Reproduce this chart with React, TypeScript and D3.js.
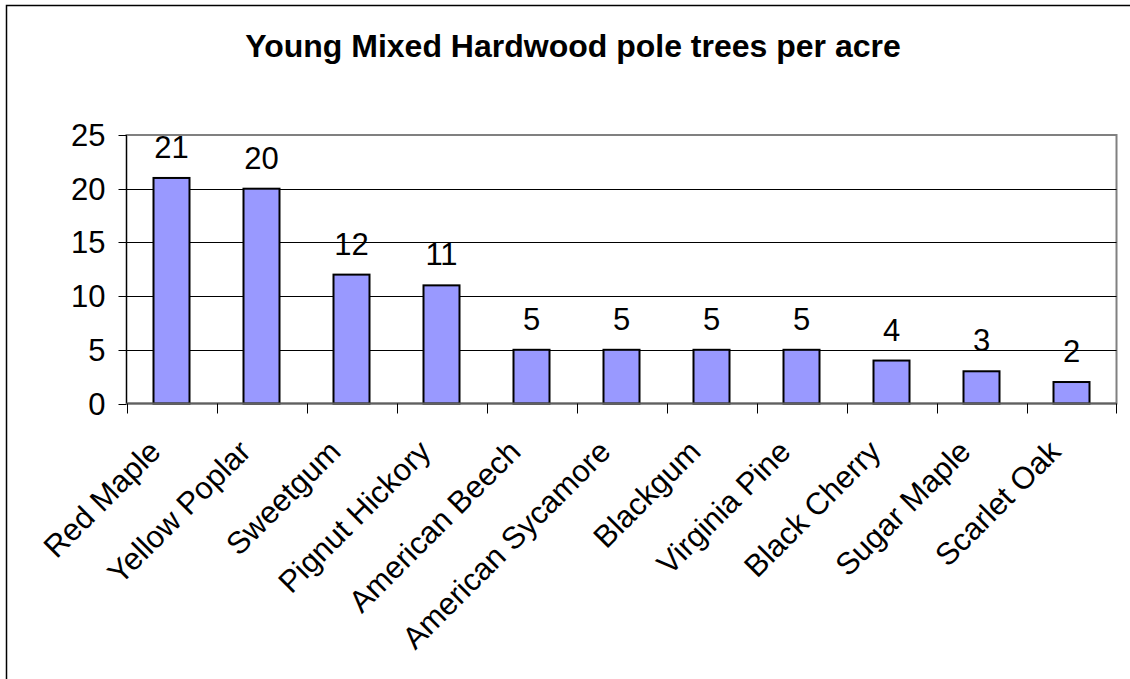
import React from "react";
import * as d3 from "d3";

const categories = [
  "Red Maple",
  "Yellow Poplar",
  "Sweetgum",
  "Pignut Hickory",
  "American Beech",
  "American Sycamore",
  "Blackgum",
  "Virginia Pine",
  "Black Cherry",
  "Sugar Maple",
  "Scarlet Oak",
];
const values = [21, 20, 12, 11, 5, 5, 5, 5, 4, 3, 2];
const yTicks = [0, 5, 10, 15, 20, 25];
const title = "Young Mixed Hardwood pole trees per acre";

const W = 1130;
const H = 679;
const plot = { left: 126.5, right: 1116.5, top: 135, bottom: 403.5 };
const FONT = "Liberation Sans, Arial, sans-serif";
const FS = 31;

export default function App() {
  const x = d3
    .scaleBand<string>()
    .domain(categories)
    .range([plot.left, plot.right])
    .paddingInner(0.6)
    .paddingOuter(0.3);
  const xb = d3
    .scaleBand<string>()
    .domain(categories)
    .range([plot.left, plot.right])
    .padding(0);
  const y = d3.scaleLinear().domain([0, 25]).range([plot.bottom, plot.top]);

  return (
    <svg
      width={W}
      height={H}
      style={{ position: "absolute", left: 0, top: 0, background: "#fff" }}
    >
      <rect x={0} y={0} width={W} height={H} fill="#fff" />
      <rect
        x={6.5}
        y={5.5}
        width={W + 20}
        height={H + 20}
        fill="none"
        stroke="#000"
        strokeWidth={1.5}
      />
      <text
        x={573}
        y={57}
        textAnchor="middle"
        fontFamily={FONT}
        fontWeight="bold"
        fontSize={32}
        fill="#000"
      >
        {title}
      </text>
      {/* plot border */}
      <rect
        x={plot.left}
        y={plot.top}
        width={plot.right - plot.left}
        height={plot.bottom - plot.top}
        fill="none"
        stroke="#808080"
        strokeWidth={2}
      />
      {/* gridlines */}
      {yTicks
        .filter((t) => t > 0 && t < 25)
        .map((t) => (
          <line
            key={"g" + t}
            x1={plot.left}
            x2={plot.right}
            y1={Math.round(y(t)) + 0.5}
            y2={Math.round(y(t)) + 0.5}
            stroke="#000"
            strokeWidth={1}
          />
        ))}
      {/* y axis */}
      <line
        x1={plot.left}
        x2={plot.left}
        y1={plot.top}
        y2={plot.bottom}
        stroke="#000"
        strokeWidth={1}
      />
      {yTicks.map((t) => (
        <g key={"yt" + t}>
          <line
            x1={plot.left - 8}
            x2={plot.left}
            y1={Math.round(y(t)) + 0.5}
            y2={Math.round(y(t)) + 0.5}
            stroke="#000"
            strokeWidth={1}
          />
          <text
            x={plot.left - 21}
            y={y(t) + 11}
            textAnchor="end"
            fontFamily={FONT}
            fontSize={FS}
            fill="#000"
          >
            {t}
          </text>
        </g>
      ))}
      {/* bars */}
      {categories.map((c, i) => (
        <g key={"b" + c}>
          <rect
            x={x(c)!}
            y={y(values[i])}
            width={x.bandwidth()}
            height={plot.bottom - y(values[i])}
            fill="#9999FF"
            stroke="#000"
            strokeWidth={2}
          />
          <text
            x={x(c)! + x.bandwidth() / 2}
            y={y(values[i]) - 20}
            textAnchor="middle"
            fontFamily={FONT}
            fontSize={FS}
            fill="#000"
          >
            {values[i]}
          </text>
        </g>
      ))}
      {/* x axis */}
      <line
        x1={plot.left}
        x2={plot.right}
        y1={plot.bottom}
        y2={plot.bottom}
        stroke="#606060"
        strokeWidth={2}
      />
      {categories.map((c, i) => (
        <line
          key={"xt" + i}
          x1={Math.round(xb(c)!) + 0.5}
          x2={Math.round(xb(c)!) + 0.5}
          y1={plot.bottom}
          y2={plot.bottom + 10}
          stroke="#000"
          strokeWidth={1}
        />
      ))}
      <line
        x1={plot.right}
        x2={plot.right}
        y1={plot.bottom}
        y2={plot.bottom + 10}
        stroke="#000"
        strokeWidth={1}
      />
      {categories.map((c) => {
        const cx = xb(c)! + xb.bandwidth() / 2;
        const cy = plot.bottom + 50;
        return (
          <text
            key={"xl" + c}
            transform={`translate(${cx - 9},${cy}) rotate(-45)`}
            textAnchor="end"
            fontFamily={FONT}
            fontSize={FS}
            fill="#000"
          >
            {c}
          </text>
        );
      })}
    </svg>
  );
}
